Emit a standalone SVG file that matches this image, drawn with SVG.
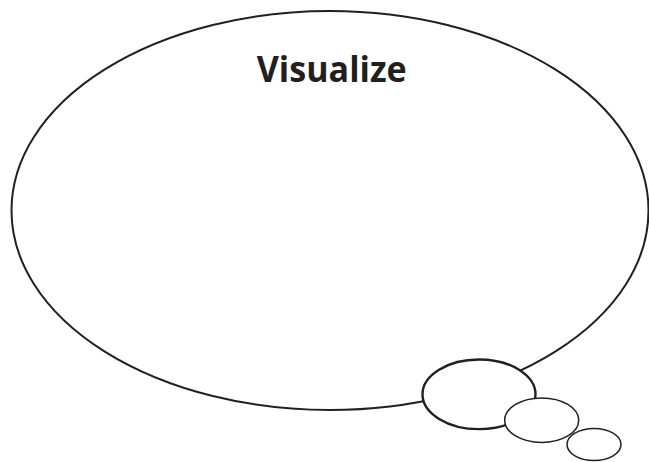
<svg xmlns="http://www.w3.org/2000/svg" width="649" height="462" viewBox="0 0 649 462">
<style>
.b{fill:#fff;stroke:#231f20}
.t{font-family:"Open Sans","Liberation Sans",sans-serif;font-weight:bold;fill:#231f20}
</style>
<rect width="649" height="462" fill="#fff"/>
<g id="cloud">
<ellipse class="b" cx="330" cy="210.5" rx="318.5" ry="199.5" stroke-width="2"/>
<text class="t" x="331.7" y="81.7" font-size="36" text-anchor="middle" textLength="150" lengthAdjust="spacingAndGlyphs">Visualize</text>
</g>
<g id="bubble1"><ellipse class="b" cx="479" cy="394.3" rx="56.5" ry="34.8" stroke-width="2.4"/></g>
<g id="bubble2"><ellipse class="b" cx="541.7" cy="420.2" rx="37" ry="22.3" stroke-width="1.5"/></g>
<g id="bubble3"><ellipse class="b" cx="594" cy="444.5" rx="27" ry="16" stroke-width="1.5"/></g>
<g id="connectors"/>
</svg>
